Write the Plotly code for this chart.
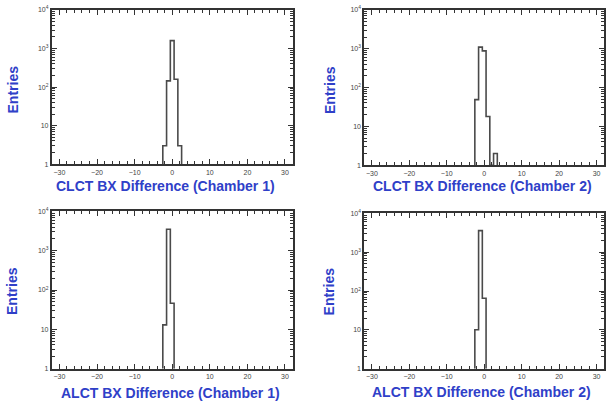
import plotly.graph_objects as go

# ---- data ----
clct_ch1_bins = [-2, -1, 0, 1, 2]
clct_ch1_counts = [3, 145, 1600, 160, 3]

clct_ch2_bins = [-2, -1, 0, 1, 2, 3]
clct_ch2_counts = [49, 1100, 880, 18, 0, 2]

alct_ch1_bins = [-2, -1, 0]
alct_ch1_counts = [13, 3500, 46]

alct_ch2_bins = [-2, -1, 0]
alct_ch2_counts = [10, 3600, 65]

x_titles = ["CLCT BX Difference (Chamber 1)", "CLCT BX Difference (Chamber 2)",
            "ALCT BX Difference (Chamber 1)", "ALCT BX Difference (Chamber 2)"]
y_title = "Entries"
x_tickvals = [-30, -20, -10, 0, 10, 20, 30]
y_tickvals = [1, 10, 100, 1000, 10000]
y_ticktext = ["1", "10", "10<sup>2</sup>", "10<sup>3</sup>", "10<sup>4</sup>"]

W, H = 606, 409
BLUE = "#2f40c8"
FRAME = "#333333"
HIST = "#4a4a4a"

# panel pixel boxes: (left, right, top, bottom)
boxes = [(52, 293, 6, 163), (365, 605, 6, 164), (52, 293, 211, 371), (365, 605, 213, 371)]
# title positions (x title center x, y), (Entries center x, y)
xtitle_pos = [(166, 185), (483, 185), (171, 396), (482, 395)]
ytitle_pos = [(13, 87), (330, 87), (12, 292), (330, 292)]

datasets = [(clct_ch1_bins, clct_ch1_counts), (clct_ch2_bins, clct_ch2_counts),
            (alct_ch1_bins, alct_ch1_counts), (alct_ch2_bins, alct_ch2_counts)]

fig = go.Figure()
layout = dict(width=W, height=H, margin=dict(l=0, r=0, t=0, b=0),
              paper_bgcolor="white", plot_bgcolor="white", showlegend=False,
              annotations=[])

def fx(p):
    return p / W

def fy(p):
    return 1 - p / H

for i, ((bins, counts), box) in enumerate(zip(datasets, boxes)):
    n = i + 1
    xa = "x" if n == 1 else f"x{n}"
    ya = "y" if n == 1 else f"y{n}"
    floor = 1
    edges = [b - 0.5 for b in bins] + [bins[-1] + 0.5]
    xs = [edges[0]] + edges[:-1] + [edges[-1]]
    ys = [floor] + [c if c > 0 else floor for c in counts] + [floor]
    fig.add_trace(go.Scatter(x=xs, y=ys, mode="lines", line=dict(color=HIST, width=1.6, shape="hv"),
                             xaxis=xa, yaxis=ya, hoverinfo="skip"))
    l, r, t, b = box
    xkey = "xaxis" if n == 1 else f"xaxis{n}"
    ykey = "yaxis" if n == 1 else f"yaxis{n}"
    layout[xkey] = dict(domain=[fx(l), fx(r)], anchor=ya, range=[-32, 32],
                        tickvals=x_tickvals, ticks="inside", ticklen=5, tickwidth=1, tickcolor=FRAME,
                        minor=dict(dtick=2, tick0=0, ticks="inside", ticklen=3, tickcolor=FRAME),
                        showline=True, linecolor=FRAME, linewidth=2, mirror="ticks",
                        showgrid=False, zeroline=False,
                        tickfont=dict(family="Liberation Sans", size=7, color="#444"))
    layout[ykey] = dict(domain=[fy(b), fy(t)], anchor=xa, type="log", range=[0, 4],
                        tickvals=y_tickvals, ticktext=y_ticktext,
                        ticks="inside", ticklen=5, tickwidth=1, tickcolor=FRAME,
                        minor=dict(dtick="D1", ticks="inside", ticklen=3, tickcolor=FRAME),
                        showline=True, linecolor=FRAME, linewidth=2, mirror="ticks",
                        showgrid=False, zeroline=False,
                        tickfont=dict(family="Liberation Sans", size=7, color="#444"))
    cx, cy = xtitle_pos[i]
    layout["annotations"].append(dict(text=f"<b>{x_titles[i]}</b>", x=fx(cx), y=fy(cy),
                                      xref="paper", yref="paper", showarrow=False,
                                      xanchor="center", yanchor="middle",
                                      font=dict(family="Liberation Sans", size=14, color=BLUE)))
    ex, ey = ytitle_pos[i]
    layout["annotations"].append(dict(text=f"<b>{y_title}</b>", x=fx(ex), y=fy(ey),
                                      xref="paper", yref="paper", showarrow=False, textangle=-90,
                                      xanchor="center", yanchor="middle",
                                      font=dict(family="Liberation Sans", size=14, color=BLUE)))

fig.update_layout(**layout)
fig.write_html("out.html")
